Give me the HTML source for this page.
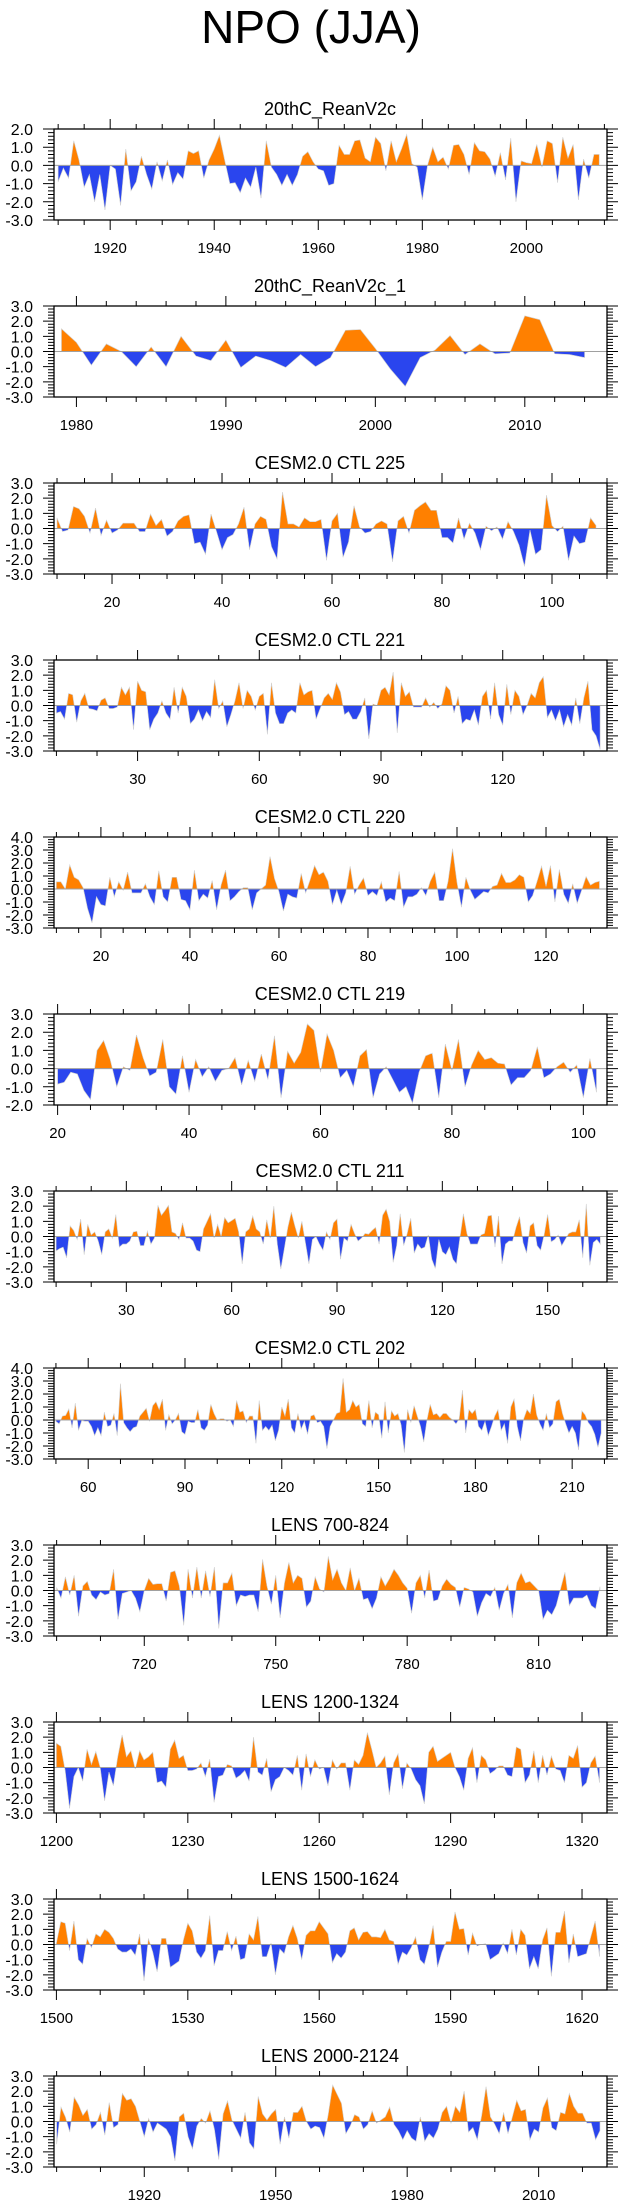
<!DOCTYPE html>
<html><head><meta charset="utf-8"><title>NPO (JJA)</title>
<style>
html,body{margin:0;padding:0;background:#fff;}
svg{display:block;font-family:"Liberation Sans",Arial,sans-serif;}
</style></head>
<body>
<svg id="chart" width="623" height="2209" viewBox="0 0 623 2209" xmlns="http://www.w3.org/2000/svg">
<rect x="0" y="0" width="623" height="2209" fill="#fff"/>
<text x="311" y="43" font-size="46" text-anchor="middle" fill="#000">NPO (JJA)</text>
</svg>
<script>
// ---- data (one value per time step) ----
const titles = ["20thC_ReanV2c","20thC_ReanV2c_1","CESM2.0 CTL 225","CESM2.0 CTL 221","CESM2.0 CTL 220","CESM2.0 CTL 219","CESM2.0 CTL 211","CESM2.0 CTL 202","LENS 700-824","LENS 1200-1324","LENS 1500-1624","LENS 2000-2124"];
const startYears = [1910,1979,10,10,10,20,10,50,700,1200,1500,1900];

const vals1 = [-0.9,-0.15,-0.7,1.35,0.3,-1.2,-0.5,-2.0,-0.5,-2.45,0.0,-0.2,-2.2,0.9,-1.4,-0.9,0.5,-0.5,-1.3,0.2,-0.85,0.3,-1.05,-0.4,-0.75,0.8,0.65,0.8,-0.7,0.3,0.9,1.65,0.3,-1.0,-0.95,-1.5,-0.7,-1.2,-0.1,-1.8,1.35,-0.1,-0.5,-1.1,-0.5,-1.1,-0.5,0.5,0.75,0.2,-0.2,-0.3,-1.1,-1.0,1.1,0.6,0.6,1.35,1.4,0.4,0.2,1.55,1.2,-0.3,1.35,0.2,0.9,1.7,0.1,-0.1,-1.9,0.0,1.0,0.2,0.45,-0.2,1.1,1.15,0.6,-0.5,1.25,0.8,0.75,0.35,-0.6,0.7,-0.8,1.5,-2.0,0.25,0.15,0.1,1.15,-0.1,1.35,1.2,-0.95,1.55,0.4,1.15,-1.9,0.35,-0.7,0.6,0.6];
const vals2 = [1.5,0.6,-0.9,0.5,0.0,-1.0,0.3,-1.0,1.0,-0.3,-0.6,0.75,-1.05,-0.3,-0.6,-1.05,-0.2,-1.0,-0.4,1.4,1.45,0.2,-1.15,-2.3,-0.4,0.1,1.05,-0.2,0.5,-0.15,-0.1,2.35,2.1,-0.15,-0.2,-0.4];
const vals3 = [0.7,-0.2,-0.1,1.45,1.3,0.8,-0.3,1.35,-0.45,0.55,-0.3,-0.1,0.35,0.35,0.35,-0.2,-0.2,0.95,0.2,0.6,-0.5,-0.2,0.5,0.8,0.9,-1.0,-0.9,-1.7,0.95,-0.2,-1.4,-0.6,-0.4,0.3,1.4,-1.4,0.3,0.8,0.6,-1.2,-2.0,2.4,0.3,0.3,0.1,0.7,0.45,0.45,0.6,-2.1,0.5,1.0,-1.9,-0.9,1.5,0.1,-0.3,-0.2,0.3,0.5,0.3,-2.2,0.5,0.8,-0.3,1.2,1.5,1.75,1.2,1.2,-0.6,-0.6,-0.95,0.7,-0.7,0.35,-0.3,-1.4,0.15,-0.15,0.1,-0.7,0.45,-0.2,-1.1,-2.5,-0.1,-1.7,-1.4,2.2,0.2,-0.2,0.15,-2.1,-0.5,-1.0,-0.9,0.7,0.2];
const vals4 = [-0.5,-0.4,-0.9,0.8,0.7,-1.1,0.3,0.8,-0.2,-0.25,-0.35,0.35,0.5,-0.2,-0.2,-0.1,1.2,0.7,1.2,-1.6,1.6,1.0,0.9,-1.6,-0.9,-0.5,0.3,-0.5,-0.9,1.2,-0.5,1.2,0.6,-1.2,-0.9,-0.3,-1.0,-0.4,-0.8,1.7,-0.2,0.3,-1.4,-0.6,0.3,1.5,-0.2,1.0,0.6,-0.3,0.6,0.8,-1.9,1.5,-0.5,-1.2,-1.2,-0.5,-0.3,-0.5,1.5,0.7,0.9,1.0,-0.9,-0.2,0.5,0.8,0.4,1.5,0.9,-0.6,-0.4,-0.9,-0.9,-0.4,0.5,-2.2,0.1,0.0,1.0,1.2,0.7,2.2,-1.8,1.5,0.6,0.9,-0.1,-0.1,-0.1,0.5,-0.1,0.2,-0.2,0.1,1.3,1.0,-0.5,0.6,-1.2,-0.9,-1.0,-0.3,-1.3,0.6,1.0,-0.9,1.5,-0.6,-1.3,1.4,-0.6,1.0,0.6,-0.6,0.0,0.8,0.5,1.5,1.9,-0.8,-0.3,-1.0,-0.3,-1.4,-0.6,-1.3,0.5,-1.2,0.5,1.6,-1.6,-2.0,-2.9];
const vals5 = [0.55,0.55,0.0,1.85,0.9,0.7,0.1,-1.5,-2.6,-0.6,-1.2,-1.3,0.9,-0.6,0.55,-0.1,1.3,-0.3,-0.3,-0.3,0.4,-0.6,-1.2,1.4,-0.6,-1.0,0.9,0.9,-0.8,-0.9,-1.6,1.45,-0.9,-0.4,-0.7,0.65,-1.6,0.3,1.45,-0.9,-0.6,-0.2,0.1,0.1,-1.6,-0.3,0.0,0.3,2.5,0.8,-0.2,-1.7,-0.4,-0.6,-0.7,1.2,-0.3,0.7,1.8,1.1,1.3,0.6,-1.2,-0.1,-1.2,-0.3,1.75,-0.4,0.3,0.85,-0.5,-0.2,-0.5,0.55,-1.0,-0.7,-0.9,1.35,-1.4,-0.6,-0.6,-0.4,0.1,-0.5,0.6,1.3,-0.9,-0.9,0.6,3.1,0.5,-1.4,0.9,-0.1,-0.8,-0.5,-0.2,-0.3,0.2,0.3,1.2,0.5,0.5,0.7,1.1,0.9,-1.0,-0.5,0.6,1.75,0.2,1.8,-1.0,1.5,-0.4,-1.1,0.4,-1.1,-0.1,0.95,0.3,0.5,0.6];
const vals6 = [-0.85,-0.75,-0.2,-0.3,-1.2,-1.7,1.0,1.55,0.5,-1.0,0.1,-0.1,1.85,0.6,-0.4,-0.2,1.6,-1.0,-1.4,0.7,-1.3,0.5,-0.45,0.1,-0.7,-0.1,0.0,0.6,-0.9,0.45,-0.7,0.8,-0.6,1.8,-1.6,0.95,0.3,0.9,2.45,2.1,-0.2,1.9,1.0,-0.5,-0.1,-1.0,0.7,1.05,-1.6,-0.3,0.1,-0.6,-1.3,-1.0,-1.9,-0.2,0.7,0.85,-1.6,1.35,-0.1,1.6,-1.0,0.2,1.0,0.5,0.6,0.3,0.25,-0.9,-0.5,-0.5,-0.1,1.2,-0.5,-0.3,0.1,0.35,-0.2,0.2,-1.6,0.55,-1.3];
const vals7 = [-0.95,-0.8,-0.7,-1.4,0.7,0.4,-0.2,1.15,-1.2,0.8,0.1,0.3,-0.3,-1.2,0.3,0.5,-0.1,1.45,-0.7,-0.5,-0.5,-0.3,0.3,0.35,-0.6,-0.6,0.35,-0.5,-0.1,2.05,1.4,1.7,2.05,0.3,0.2,-0.2,0.9,-0.1,-0.1,-0.3,-0.9,-1.0,0.5,1.0,1.5,-0.1,0.8,0.0,1.25,0.9,1.05,1.2,0.3,-1.8,0.3,0.5,1.35,0.5,0.3,-0.5,1.1,-0.1,2.0,-0.5,-2.15,-0.8,0.6,1.6,0.7,-0.1,1.0,-0.4,-1.8,-0.2,0.0,-0.5,-0.9,0.3,-0.2,0.9,1.15,-1.5,-0.1,-0.3,0.8,0.2,-0.3,-0.1,0.2,0.15,0.4,0.6,-0.5,1.4,1.8,1.0,-1.7,-0.6,1.5,-0.6,0.2,1.2,-1.1,-0.5,-0.8,-0.7,0.1,-1.5,-2.1,-0.2,-1.0,-1.2,-0.7,-1.5,-1.8,-0.1,1.5,0.2,-0.5,-0.5,-0.5,0.1,0.2,1.35,1.4,-0.7,1.35,-1.8,-0.5,-0.3,-0.3,0.6,1.3,-0.4,-1.1,0.7,0.9,-0.6,-0.9,0.1,1.45,-0.35,-0.2,0.1,-0.6,-0.2,0.2,0.3,0.3,1.1,-1.4,2.15,-1.9,-0.4,-0.2,-0.5];
const vals8 = [-0.1,-0.3,0.3,0.35,0.85,-0.6,1.3,-0.8,-0.05,-0.1,-0.1,-0.5,-1.2,-0.6,-1.2,0.6,-0.5,-0.4,0.5,-1.2,2.8,-0.2,-0.6,-0.9,-0.6,-0.5,0.3,0.6,0.9,-0.1,1.1,1.4,0.8,1.6,-0.8,0.4,-0.3,0.0,0.5,-0.9,-1.1,-0.1,-0.2,-0.2,0.8,-0.6,-0.8,-0.4,1.2,0.5,0.0,0.1,0.1,-0.1,0.0,-0.5,1.5,0.6,0.7,-0.2,0.3,0.3,-1.8,1.5,-0.8,-0.5,-0.8,-0.4,-1.6,-0.8,1.0,0.3,1.6,-0.6,-1.0,0.5,-0.7,-0.1,-1.1,0.3,0.4,-0.2,-0.1,-0.5,-2.2,-0.5,0.0,0.5,0.6,3.2,0.6,0.8,1.5,1.0,1.2,-0.3,-0.5,1.5,-0.6,0.6,0.4,-1.4,1.4,-1.0,0.7,0.3,0.5,-0.4,-2.5,0.8,-0.2,1.1,0.3,-0.5,-1.7,0.0,1.2,0.4,0.5,0.2,0.5,0.5,0.2,0.0,-0.3,0.1,2.3,-1.0,0.8,0.5,0.8,-0.5,-0.8,-0.1,-1.2,-0.5,0.3,0.8,-0.8,-0.3,-1.8,1.0,1.6,-0.5,-1.6,0.1,0.8,0.5,2.0,0.4,-0.3,-0.8,0.5,-0.6,-0.3,1.4,1.6,0.5,-0.3,-1.0,-0.5,-1.0,-2.3,0.7,0.4,-0.2,-0.5,-1.1,-2.1,-1.0];
const vals9 = [0.2,-0.5,0.9,-0.3,1.0,-1.7,0.3,0.6,-0.3,-0.6,-0.1,-0.3,-0.2,1.4,-1.9,-0.2,-0.1,0.0,-0.5,-1.4,0.0,0.8,0.4,0.45,0.45,-0.7,1.2,1.3,0.3,-2.3,1.4,-0.5,1.55,-0.5,1.3,-0.4,1.55,-2.5,0.5,0.5,1.15,-1.0,-0.3,-0.4,-0.3,-0.3,-1.4,2.05,0.3,-0.9,1.0,-1.8,0.5,1.85,0.5,1.0,0.8,-1.1,-0.7,0.9,0.1,-0.1,2.25,0.7,1.4,0.5,0.0,1.5,0.0,0.8,-0.6,-0.5,-1.2,-0.5,0.9,0.3,0.8,1.4,1.0,0.5,0.15,-1.5,0.5,1.0,-0.5,1.35,-0.7,-0.6,0.3,0.75,0.4,0.2,-1.1,0.2,0.1,-0.1,-1.7,-0.8,-0.2,-0.4,0.2,-1.3,-0.2,0.4,-1.8,0.5,1.15,0.5,0.6,0.3,0.0,-1.9,-1.3,-1.6,-1.0,0.1,1.2,-1.0,-0.5,-0.5,-0.5,-0.3,-1.0,-1.2,0.25];
const vals10 = [1.6,1.4,-0.2,-2.7,-0.6,0.0,-0.9,1.2,0.2,1.05,0.0,-2.2,-0.3,-1.2,0.7,2.15,0.7,1.1,-0.1,1.1,0.5,0.7,1.0,-1.0,-0.9,-1.3,1.2,1.8,0.6,0.8,-0.2,-0.2,-0.1,0.3,-0.6,0.55,-2.3,-0.6,-0.5,0.2,0.1,-0.7,-0.5,-0.2,-0.9,2.0,-0.3,-0.5,0.6,-1.6,-0.8,-0.6,0.0,-0.2,-0.5,0.8,-1.5,0.9,-0.6,0.5,-0.1,0.0,-1.2,0.5,-0.1,0.3,0.3,-1.5,0.5,0.2,0.8,2.3,1.2,0.0,0.3,0.75,-1.8,0.3,0.9,-1.4,0.3,-0.1,-0.8,-1.2,-2.4,1.0,1.4,0.4,0.6,0.8,1.0,0.0,-0.6,-1.5,0.6,1.3,-1.0,0.8,0.5,-0.4,-0.2,0.1,0.1,-0.5,-0.6,1.35,1.2,-1.0,-0.5,1.1,-1.0,0.8,-0.5,0.75,-0.1,-0.2,-1.0,0.8,0.6,1.45,-1.3,-1.0,0.3,0.75,-1.0];
const vals11 = [0.1,1.5,1.4,-0.4,1.55,-1.0,-1.3,0.4,-0.2,0.7,0.5,1.0,0.8,0.4,-0.3,-0.5,-0.5,-0.3,-0.7,0.7,-2.4,0.4,-0.5,-1.8,0.4,0.4,-1.5,-1.3,-1.1,0.3,1.4,0.9,-0.5,-0.9,-0.4,1.9,-1.4,-0.4,-0.4,0.85,-0.4,0.55,-1.0,-0.9,0.7,0.3,1.85,-0.8,-0.8,0.1,-2.0,-0.3,-0.6,0.5,1.25,0.4,-1.0,0.6,0.9,0.9,1.5,1.1,0.7,-1.2,-0.6,-0.9,-0.5,0.9,1.1,0.3,0.8,0.85,0.5,0.5,0.45,1.0,0.3,0.2,-1.3,-0.5,-0.7,-0.2,0.5,-1.0,-1.3,-0.2,1.25,-1.5,-0.5,0.2,0.2,2.15,1.0,1.05,-0.7,0.75,-0.1,0.0,0.05,-1.0,-0.8,-0.6,0.1,-0.6,1.0,-0.7,1.0,0.6,-1.6,-0.8,-1.6,0.3,1.1,-2.1,0.8,0.8,2.2,-1.2,0.7,-0.8,-0.7,-0.6,0.5,1.55,-0.8];
const vals12 = [-1.5,0.95,0.3,-0.7,1.6,1.1,0.4,0.8,-0.5,-0.2,0.6,-0.9,1.25,-0.4,-0.2,1.85,1.4,1.5,1.0,0.0,-1.0,0.2,-0.7,-0.1,-0.3,-0.5,-1.0,-2.6,0.3,0.55,-1.0,-1.8,-0.3,0.2,-0.1,0.7,-0.5,-2.5,0.5,1.35,0.1,-0.5,-1.1,0.6,-1.4,-1.8,1.65,0.5,0.1,0.5,0.8,-1.5,0.3,-1.1,0.6,0.6,1.0,0.0,-0.5,-0.3,-0.4,-1.1,0.5,2.4,1.8,1.2,-0.8,-0.3,0.45,0.3,-0.5,-0.2,0.7,-0.1,0.1,0.3,0.95,-0.2,-0.6,-1.2,-0.6,-1.1,-1.3,0.3,-1.3,-0.8,-1.1,-0.5,0.6,1.0,-0.1,1.0,0.6,2.0,-0.7,-0.4,-1.2,0.4,2.3,0.3,-0.2,-0.8,0.6,-0.8,0.3,1.4,0.7,0.8,-1.2,-0.5,-0.7,0.9,1.55,-0.4,-0.6,0.6,0.5,1.85,1.0,0.55,0.55,-0.1,-0.1,-1.2,-0.6];

// ---- axis tick labels ----
const xTicks1 = [1920,1940,1960,1980,2000];
const xTicks2 = [1980,1990,2000,2010];
const xTicks3 = [20,40,60,80,100];
const xTicks4 = [30,60,90,120];
const xTicks5 = [20,40,60,80,100,120];
const xTicks6 = [20,40,60,80,100];
const xTicks7 = [30,60,90,120,150];
const xTicks8 = [60,90,120,150,180,210];
const xTicks9 = [720,750,780,810];
const xTicks10 = [1200,1230,1260,1290,1320];
const xTicks11 = [1500,1530,1560,1590,1620];
const xTicks12 = [1920,1950,1980,2010];
const xMinorSteps = [5,2,5,10,5,5,10,10,10,10,10,10];
const xMins = [1909.2,1978.5,9.45,9.4,9.46,19.45,9.4,49.4,699.4,1199.45,1499.45,1899.4];
const xMaxs = [2015.5,2015.5,110,145.7,133.7,103.6,166.9,220.8,825.6,1325.7,1625.7,2025.6];
const yMins = [-3,-3,-3,-3,-3,-2,-3,-3,-3,-3,-3,-3];
const yMaxs = [2,3,3,3,4,3,3,4,3,3,3,3];

const allVals = [vals1,vals2,vals3,vals4,vals5,vals6,vals7,vals8,vals9,vals10,vals11,vals12];
const allXTicks = [xTicks1,xTicks2,xTicks3,xTicks4,xTicks5,xTicks6,xTicks7,xTicks8,xTicks9,xTicks10,xTicks11,xTicks12];

const NS = "http://www.w3.org/2000/svg";
const svg = document.getElementById('chart');
function mk(tag, attrs, parent) {
  const e = document.createElementNS(NS, tag);
  for (const k in attrs) e.setAttribute(k, attrs[k]);
  parent.appendChild(e);
  return e;
}
const defs = mk('defs', {}, svg);
const ORANGE = '#ff8000', BLUE = '#2a45ee';

function drawPanel(i) {
  const vals = allVals[i], start = startYears[i];
  const xmin = xMins[i], xmax = xMaxs[i], ymin = yMins[i], ymax = yMaxs[i];
  const L = 54, R = 607, T = 129 + 177 * i, B = T + 91;
  const sx = v => L + (v - xmin) / (xmax - xmin) * (R - L);
  const sy = v => B - (v - ymin) / (ymax - ymin) * (B - T);
  const slug = titles[i].toLowerCase().replace(/[^a-z0-9]+/g, '-');

  const g = mk('g', {}, svg);
  
  

  const t = mk('text', {x: 330, y: T - 14, 'font-size': 18, 'text-anchor': 'middle', fill: '#000'}, g);
  t.textContent = titles[i];
  
  

  const y0 = sy(0);
  const cA = mk('clipPath', {id: 'ca' + i}, defs);
  mk('rect', {x: L, y: T, width: R - L, height: y0 - T}, cA);
  const cB = mk('clipPath', {id: 'cb' + i}, defs);
  mk('rect', {x: L, y: y0, width: R - L, height: B - y0}, cB);

  let d = 'M' + sx(start).toFixed(2) + ',' + y0.toFixed(2);
  vals.forEach((v, k) => { d += ' L' + sx(start + k).toFixed(2) + ',' + sy(v).toFixed(2); });
  d += ' L' + sx(start + vals.length - 1).toFixed(2) + ',' + y0.toFixed(2) + ' Z';

  const pa = mk('path', {d: d, fill: ORANGE, 'clip-path': 'url(#ca' + i + ')'}, g);
  
  
  const pb = mk('path', {d: d, fill: BLUE, 'clip-path': 'url(#cb' + i + ')'}, g);
  
  
  const pl = mk('path', {d: d, fill: 'none', stroke: '#cfcfcf', 'stroke-width': 0.6}, g);
  
  

  const zl = mk('line', {x1: L, x2: R, y1: y0, y2: y0, stroke: '#a0a0a0', 'stroke-width': 1}, g);
  
  

  const fr = mk('rect', {x: L, y: T, width: R - L, height: B - T, fill: 'none', stroke: '#000', 'stroke-width': 1.3}, g);
  
  

  // y ticks
  let tp = '';
  for (let k = Math.round(ymin * 5); k <= Math.round(ymax * 5); k++) {
    const v = k / 5, y = sy(v).toFixed(2), major = (k % 5 === 0);
    const len = major ? 11 : 6;
    tp += 'M' + (L - len) + ',' + y + 'H' + L + 'M' + R + ',' + y + 'H' + (R + len);
    if (major) {
      const lab = mk('text', {x: 33, y: sy(v) + 6, 'font-size': 16, 'text-anchor': 'end', fill: '#000'}, g);
      lab.textContent = v.toFixed(1);
      
      
    }
  }
  // x ticks
  const ms = xMinorSteps[i];
  for (let v = Math.ceil(xmin / ms) * ms; v <= xmax; v += ms) {
    const x = sx(v).toFixed(2);
    tp += 'M' + x + ',' + (T - 5) + 'V' + T + 'M' + x + ',' + B + 'V' + (B + 5);
  }
  allXTicks[i].forEach(v => {
    const x = sx(v).toFixed(2);
    tp += 'M' + x + ',' + (T - 10) + 'V' + T + 'M' + x + ',' + B + 'V' + (B + 10);
    const lab = mk('text', {x: x, y: B + 33, 'font-size': 15, 'text-anchor': 'middle', fill: '#000'}, g);
    lab.textContent = String(v);
    
    
  });
  const tk = mk('path', {d: tp, stroke: '#000', 'stroke-width': 1, fill: 'none'}, g);
  
  
}
for (let i = 0; i < 12; i++) drawPanel(i);
</script>
</body></html>
